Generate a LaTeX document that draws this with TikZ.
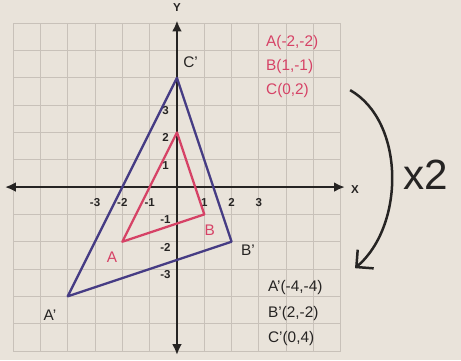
\documentclass[tikz,border=0pt]{standalone}
\usepackage{fontspec}
\setmainfont{Liberation Sans}
\usetikzlibrary{arrows.meta}
\definecolor{paper}{RGB}{233,227,218}
\definecolor{gridgray}{RGB}{200,193,185}
\definecolor{pen}{RGB}{38,36,35}
\definecolor{redpen}{RGB}{214,66,102}
\definecolor{bluepen}{RGB}{70,60,132}
\tikzset{
  axis/.style={line width=2.6pt, draw=pen, {Latex[length=4mm,width=3.6mm]}-{Latex[length=4mm,width=3.6mm]}},
  num/.style={text=pen, font=\fontsize{12}{14}\selectfont\bfseries, inner sep=0pt},
  redtri/.style={line width=2.4pt, draw=redpen, line join=round},
  bluetri/.style={line width=2.4pt, draw=bluepen, line join=round},
  redtxt/.style={text=redpen, font=\fontsize{16}{18}\selectfont, inner sep=0pt},
  pentxt/.style={text=pen, font=\fontsize{16}{18}\selectfont, inner sep=0pt},
}

\begin{document}
\begin{tikzpicture}
\fill[paper] (-6.48,-6.34) rectangle (10.40,6.85);
\useasboundingbox (-6.48,-6.34) rectangle (10.40,6.85);
\draw[gridgray, line width=0.9pt] (-6,-6) grid (6,6);

\coordinate (xl) at (-6.3,0);
\coordinate (xr) at (6.15,0);
\coordinate (yd) at (0,-6.15);
\coordinate (yu) at (0,6.1);
\draw[axis] (xl) -- (xr);
\draw[axis] (yd) -- (yu);
\node[num] (xname) at (6.52,-0.1) {X};
\node[num] (yname) at (0,6.58) {Y};

\foreach \k [count=\i] in {-3,-2,-1,1,2,3}
{\node[num] (xn\i) at (\k,-0.55) {\k};
 \node[num] (yn\i) at (-0.42,\k-0.2) {\k};}

\coordinate (A) at (-2,-2);
\coordinate (B) at (1,-1);
\coordinate (C) at (0,2);
\coordinate (A') at (-4,-4);
\coordinate (B') at (2,-2);
\coordinate (C') at (0,4);
\draw[bluetri] (A') -- (B') -- (C') -- cycle;
\draw[redtri] (A) -- (B) -- (C) -- cycle;

\node[redtxt] (la) at (-2.38,-2.56) {A};
\node[redtxt] (lb) at (1.2,-1.58) {B};
\node[pentxt] (la') at (-4.65,-4.69) {A'};
\node[pentxt] (lb') at (2.6,-2.3) {B'};
\node[pentxt] (lc') at (0.5,4.58) {C'};

\node[redtxt, anchor=west] (ra) at (3.26,5.31) {A(-2,-2)};
\node[redtxt, anchor=west] (rb) at (3.26,4.43) {B(1,-1)};
\node[redtxt, anchor=west] (rc) at (3.26,3.55) {C(0,2)};
\node[pentxt, anchor=west] (ba) at (3.33,-3.66) {A'(-4,-4)};
\node[pentxt, anchor=west] (bb) at (3.33,-4.62) {B'(2,-2)};
\node[pentxt, anchor=west] (bc) at (3.33,-5.53) {C'(0,4)};

\coordinate (from) at (6.34,3.55);
\coordinate (to) at (6.52,-2.97);
\draw[pen, line width=2.6pt, -{Straight Barb[length=4.5mm,width=9mm]}]
  (from) .. controls (8.35,2.4) and (8.35,-1.4) .. (to);
\node[text=pen, font=\fontsize{44}{48}\selectfont] (times) at (9.1,0.44) {x2};

\end{tikzpicture}
\end{document}
